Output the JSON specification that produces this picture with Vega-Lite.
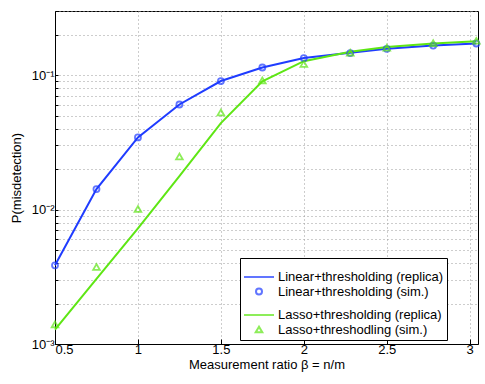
{
  "$schema": "https://vega.github.io/schema/vega-lite/v6.json",
  "width": 423,
  "height": 333,
  "autosize": "none",
  "padding": {"left": 55, "top": 11, "right": 7, "bottom": 40},
  "background": "white",
  "config": {
    "font": "Liberation Sans",
    "view": {"stroke": "#000", "strokeWidth": 1},
    "axis": {
      "domainColor": "#000",
      "tickColor": "#000",
      "labelColor": "#000",
      "titleColor": "#000",
      "labelFontSize": 13,
      "titleFontSize": 13,
      "titleFontWeight": "normal",
      "gridColor": "#9a9a9a",
      "gridDash": [1, 3],
      "gridWidth": 1,
      "gridOpacity": 1
    }
  },
  "data": {
    "values": [
      {"x": 0.5, "y": 0.00385, "series": "Linear+thresholding (replica)"},
      {"x": 0.75, "y": 0.0142, "series": "Linear+thresholding (replica)"},
      {"x": 1.0, "y": 0.0344, "series": "Linear+thresholding (replica)"},
      {"x": 1.25, "y": 0.0605, "series": "Linear+thresholding (replica)"},
      {"x": 1.5, "y": 0.0904, "series": "Linear+thresholding (replica)"},
      {"x": 1.75, "y": 0.114, "series": "Linear+thresholding (replica)"},
      {"x": 2.0, "y": 0.134, "series": "Linear+thresholding (replica)"},
      {"x": 2.28, "y": 0.147, "series": "Linear+thresholding (replica)"},
      {"x": 2.5, "y": 0.157, "series": "Linear+thresholding (replica)"},
      {"x": 2.78, "y": 0.166, "series": "Linear+thresholding (replica)"},
      {"x": 3.04, "y": 0.172, "series": "Linear+thresholding (replica)"},
      {"x": 0.5, "y": 0.00385, "series": "Linear+thresholding (sim.)"},
      {"x": 0.75, "y": 0.0142, "series": "Linear+thresholding (sim.)"},
      {"x": 1.0, "y": 0.0344, "series": "Linear+thresholding (sim.)"},
      {"x": 1.25, "y": 0.0605, "series": "Linear+thresholding (sim.)"},
      {"x": 1.5, "y": 0.0904, "series": "Linear+thresholding (sim.)"},
      {"x": 1.75, "y": 0.114, "series": "Linear+thresholding (sim.)"},
      {"x": 2.0, "y": 0.134, "series": "Linear+thresholding (sim.)"},
      {"x": 2.28, "y": 0.146, "series": "Linear+thresholding (sim.)"},
      {"x": 2.5, "y": 0.157, "series": "Linear+thresholding (sim.)"},
      {"x": 2.78, "y": 0.166, "series": "Linear+thresholding (sim.)"},
      {"x": 3.04, "y": 0.172, "series": "Linear+thresholding (sim.)"},
      {"x": 0.5, "y": 0.00128, "series": "Lasso+thresholding (replica)"},
      {"x": 0.75, "y": 0.00305, "series": "Lasso+thresholding (replica)"},
      {"x": 1.0, "y": 0.00726, "series": "Lasso+thresholding (replica)"},
      {"x": 1.25, "y": 0.0177, "series": "Lasso+thresholding (replica)"},
      {"x": 1.5, "y": 0.044, "series": "Lasso+thresholding (replica)"},
      {"x": 1.75, "y": 0.09, "series": "Lasso+thresholding (replica)"},
      {"x": 2.0, "y": 0.127, "series": "Lasso+thresholding (replica)"},
      {"x": 2.28, "y": 0.149, "series": "Lasso+thresholding (replica)"},
      {"x": 2.5, "y": 0.162, "series": "Lasso+thresholding (replica)"},
      {"x": 2.78, "y": 0.172, "series": "Lasso+thresholding (replica)"},
      {"x": 3.04, "y": 0.179, "series": "Lasso+thresholding (replica)"},
      {"x": 0.5, "y": 0.0014, "series": "Lasso+threshodling (sim.)"},
      {"x": 0.75, "y": 0.00374, "series": "Lasso+threshodling (sim.)"},
      {"x": 1.0, "y": 0.0101, "series": "Lasso+threshodling (sim.)"},
      {"x": 1.25, "y": 0.0248, "series": "Lasso+threshodling (sim.)"},
      {"x": 1.5, "y": 0.0527, "series": "Lasso+threshodling (sim.)"},
      {"x": 1.75, "y": 0.0914, "series": "Lasso+threshodling (sim.)"},
      {"x": 2.0, "y": 0.121, "series": "Lasso+threshodling (sim.)"},
      {"x": 2.28, "y": 0.147, "series": "Lasso+threshodling (sim.)"},
      {"x": 2.5, "y": 0.16, "series": "Lasso+threshodling (sim.)"},
      {"x": 2.78, "y": 0.173, "series": "Lasso+threshodling (sim.)"},
      {"x": 3.04, "y": 0.18, "series": "Lasso+threshodling (sim.)"}
    ]
  },
  "encoding": {
    "x": {
      "field": "x",
      "type": "quantitative",
      "scale": {"domain": [0.5, 3.05], "nice": false, "zero": false},
      "axis": {
        "title": "Measurement ratio β = n/m",
        "values": [0.5, 1, 1.5, 2, 2.5, 3],
        "format": "~g",
        "grid": true,
        "tickSize": -5,
        "labelPadding": 4,
        "titlePadding": 2
      }
    },
    "y": {
      "field": "y",
      "type": "quantitative",
      "scale": {"type": "log", "domain": [0.001, 0.3], "nice": false},
      "axis": {
        "title": "P(misdetection)",
        "values": [0.001, 0.002, 0.003, 0.004, 0.005, 0.006, 0.007, 0.008, 0.009, 0.01, 0.02, 0.03, 0.04, 0.05, 0.06, 0.07, 0.08, 0.09, 0.1, 0.2, 0.3],
        "labelExpr": "datum.value == 0.001 ? '10⁻³' : (datum.value == 0.01 ? '10⁻²' : (datum.value == 0.1 ? '10⁻¹' : ''))",
        "grid": true,
        "tickSize": -3,
        "labelPadding": 4,
        "titlePadding": 8
      }
    },
    "color": {
      "field": "series",
      "type": "nominal",
      "scale": {
        "domain": ["Linear+thresholding (replica)", "Linear+thresholding (sim.)", "Lasso+thresholding (replica)", "Lasso+threshodling (sim.)"],
        "range": ["#1f3cff", "#1f3cff", "#5ee614", "#5ee614"]
      },
      "legend": {
        "title": null,
        "orient": "none",
        "legendX": 185,
        "legendY": 247,
        "strokeColor": "#000",
        "fillColor": "white",
        "padding": 3,
        "labelFont": "Liberation Sans",
        "labelFontSize": 13,
        "labelColor": "#000",
        "labelLimit": 0,
        "labelOffset": 3,
        "rowPadding": 0,
        "symbolStrokeWidth": 2
      }
    }
  },
  "layer": [
    {
      "transform": [{"filter": "indexof(datum.series, 'replica') >= 0"}],
      "mark": {"type": "line", "strokeWidth": 2},
      "encoding": {
        "color": {"field": "series", "type": "nominal"}
      }
    },
    {
      "transform": [{"filter": "indexof(datum.series, 'sim') >= 0"}],
      "mark": {"type": "point", "filled": false, "strokeWidth": 1.8},
      "encoding": {
        "shape": {
          "field": "series",
          "type": "nominal",
          "scale": {"domain": ["Linear+thresholding (replica)", "Linear+thresholding (sim.)", "Lasso+thresholding (replica)", "Lasso+threshodling (sim.)"], "range": ["stroke", "circle", "stroke", "triangle-up"]}
        },
        "size": {
          "field": "series",
          "type": "nominal",
          "scale": {"type": "ordinal", "domain": ["Linear+thresholding (replica)", "Linear+thresholding (sim.)", "Lasso+thresholding (replica)", "Lasso+threshodling (sim.)"], "range": [900, 36, 900, 44]}
        }
      }
    }
  ]
}
